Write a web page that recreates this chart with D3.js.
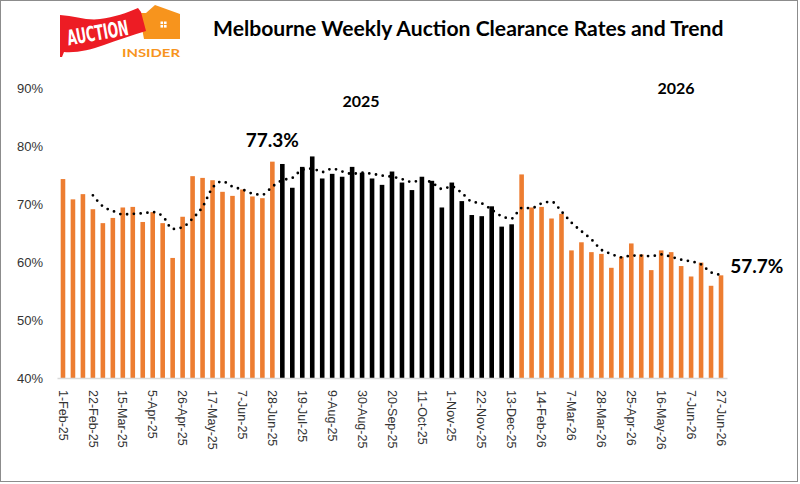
<!DOCTYPE html>
<html>
<head>
<meta charset="utf-8">
<script src="https://cdn.jsdelivr.net/npm/d3@7"></script>
<style>
  body { margin: 0; background: #fff; }
  svg { display: block; font-family: Lato, "Noto Sans", sans-serif; }
  .tick text { fill: #333; }
</style>
</head>
<body>
<div id="chart"></div>
<script>

// weekly auction dates (every third is labelled on the axis)
var dates = [
    "1-Feb-25", "8-Feb-25", "15-Feb-25", "22-Feb-25", "1-Mar-25", "8-Mar-25",
    "15-Mar-25", "22-Mar-25", "29-Mar-25", "5-Apr-25", "12-Apr-25", "19-Apr-25",
    "26-Apr-25", "3-May-25", "10-May-25", "17-May-25", "24-May-25", "31-May-25",
    "7-Jun-25", "14-Jun-25", "21-Jun-25", "28-Jun-25", "5-Jul-25", "12-Jul-25",
    "19-Jul-25", "26-Jul-25", "2-Aug-25", "9-Aug-25", "16-Aug-25", "23-Aug-25",
    "30-Aug-25", "6-Sep-25", "13-Sep-25", "20-Sep-25", "27-Sep-25", "4-Oct-25",
    "11-Oct-25", "18-Oct-25", "25-Oct-25", "1-Nov-25", "8-Nov-25", "15-Nov-25",
    "22-Nov-25", "29-Nov-25", "6-Dec-25", "13-Dec-25", "31-Jan-26", "7-Feb-26",
    "14-Feb-26", "21-Feb-26", "28-Feb-26", "7-Mar-26", "14-Mar-26", "21-Mar-26",
    "28-Mar-26", "11-Apr-26", "18-Apr-26", "25-Apr-26", "2-May-26", "9-May-26",
    "16-May-26", "23-May-26", "30-May-26", "7-Jun-26", "13-Jun-26", "20-Jun-26",
    "27-Jun-26"
];

// clearance rate, %
var rates = [
    74.3, 70.8, 71.7, 69.1, 66.7, 67.6, 69.4, 69.5, 66.9, 68.6, 66.7, 60.7,
    67.8, 74.8, 74.5, 74.1, 72.1, 71.4, 72.5, 71.3, 71.0, 77.3, 76.9, 72.8,
    76.4, 78.2, 74.4, 75.2, 74.7, 76.4, 75.4, 74.4, 73.3, 75.6, 73.7, 72.4,
    74.7, 74.0, 69.4, 73.7, 70.5, 68.1, 67.9, 69.6, 66.1, 66.5, 75.1, 69.4,
    69.5, 67.5, 68.3, 62.0, 63.4, 61.7, 61.4, 59.0, 60.9, 63.2, 61.3, 58.6,
    62.0, 61.7, 59.3, 57.5, 59.9, 55.9, 57.7
];

// trend (4 week moving average)
var trend = [
    null, null, null, 71.5, 69.6, 68.8, 68.2, 68.3, 68.4, 68.6, 67.9, 65.7,
    66.0, 67.5, 69.5, 72.8, 73.9, 73.0, 72.5, 71.8, 71.6, 73.0, 74.1, 74.5,
    75.9, 76.1, 75.5, 76.1, 75.6, 75.2, 75.4, 75.2, 74.9, 74.7, 74.3, 73.8,
    74.1, 73.7, 72.6, 73.0, 71.9, 70.4, 70.1, 69.0, 67.9, 67.5, 69.3, 69.3,
    70.1, 70.4, 68.7, 66.8, 65.3, 63.9, 62.1, 61.4, 60.8, 61.1, 61.1, 61.0,
    61.3, 60.9, 60.4, 60.1, 59.6, 58.2, 57.8
];

// second half of 2025 drawn in black
var highlight = ["5-Jul-25", "13-Dec-25"];

var yTicks = [40, 50, 60, 70, 80, 90];

var W = 800, H = 484;
var orange = "#ED7D31";

var svg = d3.select("#chart").append("svg")
    .attr("width", W)
    .attr("height", H);

svg.append("rect")
    .attr("x", 0.5).attr("y", 0.5)
    .attr("width", 797).attr("height", 481)
    .attr("fill", "#fff")
    .attr("stroke", "#8c8c8c");

var x = d3.scaleBand()
    .domain(dates)
    .range([57, 727])
    .paddingInner(0.54)
    .paddingOuter(0.37);

var y = d3.scaleLinear()
    .domain([40, 90])
    .range([378, 88]);

var hi0 = dates.indexOf(highlight[0]);
var hi1 = dates.indexOf(highlight[1]);

// y axis, labels only
var yAxis = svg.append("g")
    .attr("transform", "translate(43,0)")
    .call(d3.axisLeft(y).tickValues(yTicks).tickSize(0).tickPadding(0)
	  .tickFormat(function(d){ return d + "%"; }));
yAxis.select(".domain").remove();
yAxis.selectAll("text")
    .style("font-size", "13px")
    .attr("dy", "0.35em");

// bars
svg.append("g").selectAll("rect")
    .data(rates)
    .enter()
    .append("rect")
    .attr("x", function(d, i){ return x(dates[i]); })
    .attr("width", x.bandwidth())
    .attr("y", function(d){ return y(d); })
    .attr("height", function(d){ return y(40) - y(d); })
    .attr("fill", function(d, i){
	return (i >= hi0 && i <= hi1) ? "#000" : orange;
    });

// x axis
var xAxis = svg.append("g")
    .attr("transform", "translate(0," + y(40) + ")")
    .call(d3.axisBottom(x)
	  .tickValues(dates.filter(function(d, i){ return i % 3 == 0; }))
	  .tickSize(0));
xAxis.select(".domain")
    .attr("stroke", "#d9d9d9")
    .attr("stroke-width", 1.5);
xAxis.selectAll("text")
    .style("font-size", "12.5px")
    .attr("text-anchor", "start")
    .attr("transform", "rotate(90)")
    .attr("x", 12)
    .attr("y", 0)
    .attr("dy", "0.35em");

// trend, dotted
var line = d3.line()
    .defined(function(d){ return d != null; })
    .x(function(d, i){ return x(dates[i]) + x.bandwidth() / 2; })
    .y(function(d){ return y(d); })
    .curve(d3.curveMonotoneX);

svg.append("path")
    .datum(trend)
    .attr("d", line)
    .attr("fill", "none")
    .attr("stroke", "#000")
    .attr("stroke-width", 2.8)
    .attr("stroke-linecap", "round")
    .attr("stroke-dasharray", "0 6.8");

// annotations
var peak = dates.indexOf("28-Jun-25");
svg.append("text")
    .attr("x", x(dates[peak]) + x.bandwidth() / 2)
    .attr("y", y(rates[peak]) - 15)
    .attr("text-anchor", "middle")
    .style("font-size", "19px")
    .style("font-weight", "bold")
    .text(rates[peak].toFixed(1) + "%");

var last = rates.length - 1;
svg.append("text")
    .attr("x", x(dates[last]) + x.bandwidth() + 7)
    .attr("y", y(rates[last]) - 2)
    .style("font-size", "19px")
    .style("font-weight", "bold")
    .text(rates[last].toFixed(1) + "%");

svg.append("text")
    .attr("x", 361).attr("y", 107)
    .attr("text-anchor", "middle")
    .style("font-size", "16px")
    .style("font-weight", "bold")
    .text("2025");

svg.append("text")
    .attr("x", 676).attr("y", 94)
    .attr("text-anchor", "middle")
    .style("font-size", "16px")
    .style("font-weight", "bold")
    .text("2026");

// title, sized to fit its width
var title = svg.append("text")
    .attr("x", 213).attr("y", 36)
    .style("font-size", "18px")
    .style("font-weight", "bold")
    .text("Melbourne Weekly Auction Clearance Rates and Trend");
var tl = title.node().getComputedTextLength();
title.style("font-size", (18 * 511 / tl) + "px");

// logo
var logo = svg.append("g");

logo.append("path")
    .attr("d", "M139,13 L146,13 L155,5 L180,14 L180,39 L144,39 Z")
    .attr("fill", "#F7941D");

[[160.5, 21.5], [164, 21.5], [160.5, 25], [164, 25]].forEach(function(p){
    logo.append("rect")
	.attr("x", p[0]).attr("y", p[1])
	.attr("width", 2.6).attr("height", 2.6)
	.attr("fill", "#fff");
});

logo.append("path")
    .attr("d", "M60,15 C75,16 88,21 100,19 C114,17 127,13 138,8 "
	  + "L141,12 L146,31 C132,35 118,40 104,45 C90,50 77,53 64,52 "
	  + "L62,57 L60,57 Z")
    .attr("fill", "#ED1C24");

logo.append("text")
    .attr("transform", "translate(99,40) rotate(-10)")
    .attr("text-anchor", "middle")
    .attr("textLength", 62)
    .attr("lengthAdjust", "spacingAndGlyphs")
    .style("font-family", "'Liberation Sans Narrow', 'DejaVu Sans Condensed', sans-serif")
    .style("font-size", "21px")
    .style("font-weight", "bold")
    .attr("fill", "#fff")
    .text("AUCTION");

logo.append("text")
    .attr("x", 122).attr("y", 57)
    .attr("textLength", 58)
    .attr("lengthAdjust", "spacingAndGlyphs")
    .style("font-size", "11px")
    .style("font-weight", "bold")
    .attr("fill", "#F7941D")
    .text("INSIDER");

</script>
</body>
</html>
